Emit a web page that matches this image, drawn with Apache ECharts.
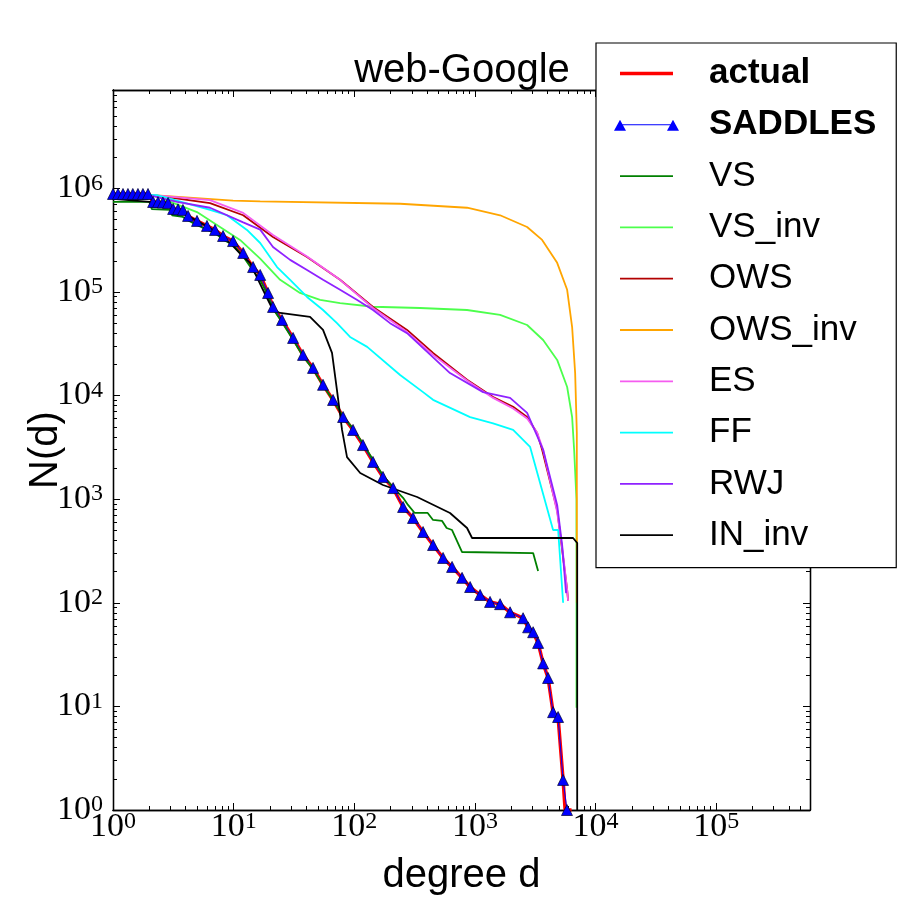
<!DOCTYPE html>
<html>
<head>
<meta charset="utf-8">
<title>web-Google</title>
<script src="https://cdn.jsdelivr.net/npm/echarts@6.0.0/dist/echarts.min.js"></script>
<style>
  html, body { margin: 0; padding: 0; background: #fff; }
  #chart { width: 900px; height: 900px; }
</style>
</head>
<body>
<div id="chart"></div>
<script>
// N(d) against degree d
var actual = [[1, 883000], [1.95, 883000], [2.15, 739000], [2.86, 723000], [3.15, 633000], [3.8, 619000],
  [4.19, 542000], [4.97, 485000], [6.01, 434000], [7.01, 397000], [8.17, 347000], [9.89, 310000],
  [12.0, 238000], [14.5, 174000], [16.6, 146000], [19.3, 97800], [21.2, 71700], [25.2, 53700],
  [31.1, 36000], [37.6, 24700], [45.5, 18500], [55.1, 12700], [66.7, 9070], [80.8, 6210],
  [97.7, 4660], [118, 3330], [143, 2290], [173, 1640], [210, 1280], [254, 841], [307, 659],
  [372, 482], [450, 361], [545, 271], [647, 222], [783, 174], [913, 142], [1105, 119], [1336, 102],
  [1618, 97], [1958, 81], [2510, 71], [2763, 58], [3040, 52], [3343, 41], [3680, 26], [4045, 18.8],
  [4448, 8.8], [4895, 7.9], [5385, 1.95], [5600, 1], [6330, 1]];

var saddles = [[1, 883000], [1.1, 883000], [1.21, 883000], [1.33, 883000], [1.46, 883000], [1.61, 883000],
  [1.77, 883000], [1.95, 883000], [2.15, 739000], [2.36, 735000], [2.59, 730000], [2.86, 723000],
  [3.15, 633000], [3.46, 628000], [3.8, 619000], [4.19, 542000], [4.97, 485000], [6.01, 434000],
  [7.01, 397000], [8.17, 347000], [9.89, 310000], [12.0, 238000], [14.5, 174000], [16.6, 146000],
  [19.3, 97800], [21.2, 71700], [25.2, 53700], [31.1, 36000], [37.6, 24700], [45.5, 18500],
  [55.1, 12700], [66.7, 9070], [80.8, 6210], [97.7, 4660], [118, 3330], [143, 2290], [173, 1640],
  [210, 1280], [254, 841], [307, 659], [372, 482], [450, 361], [545, 271], [647, 222], [783, 174],
  [913, 142], [1105, 119], [1336, 102], [1618, 97], [1958, 81], [2510, 71], [2763, 58], [3040, 52],
  [3343, 41], [3680, 26], [4045, 18.8], [4448, 8.8], [4895, 7.9], [5385, 1.95], [5800, 1]];

var vs = [[1, 740000], [2.0, 740000], [2.1, 630000], [2.97, 620000], [3.09, 550000], [3.8, 530000],
  [4.2, 490000], [5.0, 440000], [6.0, 400000], [7.0, 370000], [8.2, 320000], [9.9, 285000],
  [12, 220000], [14.5, 160000], [16.6, 130000], [19.3, 92000], [21.2, 69000], [25.2, 51000],
  [31.1, 34500], [37.6, 24000], [45.5, 18000], [55.1, 12500], [66.7, 9000], [80.8, 6300],
  [97.7, 4800], [118, 3450], [143, 2400], [173, 1700], [210, 1300], [254, 1030], [279, 880],
  [317, 736], [406, 736], [450, 630], [535, 617], [583, 527], [647, 504], [783, 309], [3040, 302],
  [3343, 203]];

var vsInv = [[1, 880000], [2.15, 860000], [4.97, 590000], [7.71, 424000], [11.3, 318000], [16.6, 210000],
  [24.3, 131000], [35.5, 98000], [52.1, 84000], [76.3, 78000], [143, 72000], [351, 70000],
  [861, 67000], [1618, 60000], [2710, 48000], [3680, 34400], [4810, 22100], [5820, 12100],
  [6400, 6200], [6650, 3000], [6950, 1000], [6950, 9.7]];

var ows = [[1, 880000], [2.15, 860000], [6.37, 720000], [12, 550000], [21.2, 340000], [40.6, 218000],
  [76.3, 131000], [143, 71700], [274, 43000], [450, 25800], [861, 14200], [1416, 9700],
  [2075, 7800], [2710, 6200], [3280, 4360], [3610, 3000], [4810, 787], [5290, 324], [5820, 133],
  [5930, 104]];

var owsInv = [[1, 900000], [2.15, 860000], [9.9, 760000], [16.6, 750000], [240, 710000], [861, 650000],
  [1618, 550000], [2710, 424000], [3610, 318000], [4810, 191000], [5820, 105000], [6400, 45900],
  [6780, 16500], [7000, 4360], [7000, 100]];

var es = [[1, 880000], [2.15, 860000], [6.37, 770000], [12, 580000], [21.2, 355000], [40.6, 220000],
  [76.3, 131000], [143, 70000], [274, 41000], [450, 24700], [861, 14000], [1416, 9500],
  [2075, 7500], [2710, 6000], [3280, 4400], [3680, 3000], [4810, 750], [5390, 290], [5820, 133],
  [5930, 104]];

var ff = [[1, 880000], [2.32, 860000], [6.37, 620000], [8.81, 550000], [12.9, 397000], [16.6, 297000],
  [22.9, 174000], [29.4, 131000], [40.6, 89500], [55.1, 67000], [71.9, 50000], [92.3, 36800],
  [128, 29500], [240, 15800], [372, 10800], [450, 9100], [913, 6200], [1416, 5400], [2075, 4660],
  [2870, 3190], [4450, 504], [4900, 504], [5390, 100]];

var rwj = [[1, 880000], [2.15, 840000], [3.4, 740000], [6.37, 650000], [12, 470000], [16.6, 400000],
  [21.2, 272000], [29.4, 204000], [40.6, 163000], [55.1, 131000], [76.3, 105000], [105, 84000],
  [143, 67000], [198, 50000], [274, 40000], [622, 16500], [1170, 10800], [1958, 9500], [2710, 6800],
  [3680, 3000], [4810, 880], [5290, 360], [5700, 124]];

var inInv = [[1, 790000], [2.03, 740000], [2.97, 650000], [4.35, 530000], [6.37, 415000], [9.33, 297000],
  [12, 218000], [13.7, 191000], [17.5, 105000], [21.2, 67000], [24.3, 62700], [43, 57400],
  [55.1, 43000], [65.4, 25800], [71.9, 11300], [79.2, 4660], [87.1, 2550], [112, 1790], [173, 1370],
  [332, 1050], [622, 736], [861, 527], [948, 422], [6520, 422], [7050, 378], [7050, 1]];

var seriesNames = ['actual', 'SADDLES', 'VS', 'VS_inv', 'OWS', 'OWS_inv', 'ES', 'FF', 'RWJ', 'IN_inv'];
var seriesData = [actual, saddles, vs, vsInv, ows, owsInv, es, ff, rwj, inInv];
var seriesColors = ['#ff0000', '#0000ff', '#008000', '#4cff4c', '#b20000', '#ffa500', '#f55cf0', '#00ffff', '#8f22ff', '#000000'];

// axis ranges and tick values
var xMin = 1, xMax = 6e5;
var yMin = 1, yMax = 8.9e6;
var xMajor = [1, 10, 100, 1000, 10000, 100000];
var yMajor = [1, 10, 100, 1000, 10000, 100000, 1000000];

function minorTicks(hi) {
  var out = [];
  for (var p = 1; p < hi; p *= 10) {
    for (var k = 2; k <= 9; k++) {
      if (p * k <= hi) out.push(p * k);
    }
  }
  return out;
}

var serif = 'Liberation Serif';
var sans = 'Liberation Sans';

function powLabel(v) {
  var e = Math.round(Math.log(v) / Math.LN10);
  return '{b|10}{s|' + e + '}';
}

var labelRich = {
  b: { fontFamily: serif, fontSize: 34, lineHeight: 34, color: '#000' },
  s: { fontFamily: serif, fontSize: 24, lineHeight: 24, verticalAlign: 'top', color: '#000' }
};

function makeAxis(kind, pos, ticks, len, withLabels) {
  var ax = {
    type: 'log',
    logBase: 10,
    min: kind === 'x' ? xMin : yMin,
    max: kind === 'x' ? xMax : yMax,
    position: pos,
    axisLine: { show: true, onZero: false, lineStyle: { color: '#000', width: 1.3 } },
    axisTick: { show: true, inside: true, length: len, customValues: ticks, lineStyle: { color: '#000', width: 1 } },
    axisLabel: { show: false },
    splitLine: { show: false },
    minorTick: { show: false },
    minorSplitLine: { show: false }
  };
  if (withLabels) {
    ax.axisLabel = {
      show: true,
      customValues: ticks,
      formatter: powLabel,
      margin: kind === 'x' ? 0 : 10,
      rich: labelRich
    };
  }
  return ax;
}

var xMinor = minorTicks(xMax);
var yMinor = minorTicks(yMax);

var xAxes = [
  makeAxis('x', 'bottom', xMajor, 7, true),
  makeAxis('x', 'top', xMajor, 7, false),
  makeAxis('x', 'bottom', xMinor, 4, false),
  makeAxis('x', 'top', xMinor, 4, false)
];
xAxes[0].name = 'degree d';
xAxes[0].nameLocation = 'middle';
xAxes[0].nameGap = 46;
xAxes[0].nameMoveOverlap = false;
xAxes[0].nameTextStyle = { fontFamily: sans, fontSize: 40, color: '#000' };

var yAxes = [
  makeAxis('y', 'left', yMajor, 7, true),
  makeAxis('y', 'right', yMajor, 7, false),
  makeAxis('y', 'left', yMinor, 4, false),
  makeAxis('y', 'right', yMinor, 4, false)
];
yAxes[0].name = 'N(d)';
yAxes[0].nameLocation = 'middle';
yAxes[0].nameGap = 47;
yAxes[0].nameMoveOverlap = false;
yAxes[0].nameTextStyle = { fontFamily: sans, fontSize: 40, color: '#000' };

var series = seriesNames.map(function (name, i) {
  var s = {
    name: name,
    type: 'line',
    data: seriesData[i],
    xAxisIndex: 0,
    yAxisIndex: 0,
    symbol: 'none',
    clip: true,
    silent: true,
    lineStyle: { color: seriesColors[i], width: 1.8 },
    itemStyle: { color: seriesColors[i] }
  };
  if (name === 'actual') {
    s.lineStyle.width = 3.5;
  }
  if (name === 'SADDLES') {
    s.symbol = 'triangle';
    s.symbolSize = 11;
    s.showAllSymbol = true;
    s.lineStyle.width = 1;
    s.itemStyle = { color: '#0000ff', borderColor: '#000033', borderWidth: 0.7 };
  }
  return s;
});

// legend icons: a 65x14 box (corner points keep the box), line drawn from 6 to 59
var boxPts = 'M0,0L0.01,0Z M65,14L65.01,14Z ';
var legendIcons = {
  actual: 'path://' + boxPts + 'M6,5.25H59V8.75H6Z',
  SADDLES: 'path://' + boxPts + 'M6,6.5H59V7.5H6Z M0,13L6,2L12,13Z M53,13L59,2L65,13Z',
  other: 'path://' + boxPts + 'M6,6.1H59V7.9H6Z'
};

var legendData = seriesNames.map(function (name) {
  return {
    name: name,
    icon: legendIcons[name] || legendIcons.other,
    itemStyle: { borderWidth: 0 }
  };
});

var chart = echarts.init(document.getElementById('chart'));
chart.setOption({
  animation: false,
  backgroundColor: '#fff',
  title: {
    text: 'web-Google',
    left: 457,
    top: 46,
    textAlign: 'center',
    z: 2,
    textStyle: { fontFamily: sans, fontSize: 40, fontWeight: 'normal', color: '#000' }
  },
  grid: { left: 113, right: 90, top: 90, bottom: 90, containLabel: false, outerBoundsMode: 'none' },
  legend: {
    orient: 'vertical',
    left: 596,
    top: 43,
    z: 10,
    selectedMode: false,
    symbolKeepAspect: true,
    backgroundColor: '#fff',
    borderColor: '#000',
    borderWidth: 1.2,
    borderRadius: 0,
    padding: [13, 20, 15, 18],
    itemWidth: 65,
    itemHeight: 14,
    itemGap: 16.3,
    data: legendData,
    formatter: function (name) {
      return (name === 'actual' || name === 'SADDLES') ? '{b|' + name + '}' : '{n|' + name + '}';
    },
    textStyle: {
      fontFamily: sans,
      fontSize: 35,
      color: '#000',
      rich: {
        b: { fontFamily: sans, fontSize: 35, fontWeight: 'bold', lineHeight: 38, padding: [0, 0, 0, 25], color: '#000' },
        n: { fontFamily: sans, fontSize: 35, lineHeight: 38, padding: [0, 0, 0, 25], color: '#000' }
      }
    }
  },
  xAxis: xAxes,
  yAxis: yAxes,
  series: series
});
</script>
</body>
</html>
